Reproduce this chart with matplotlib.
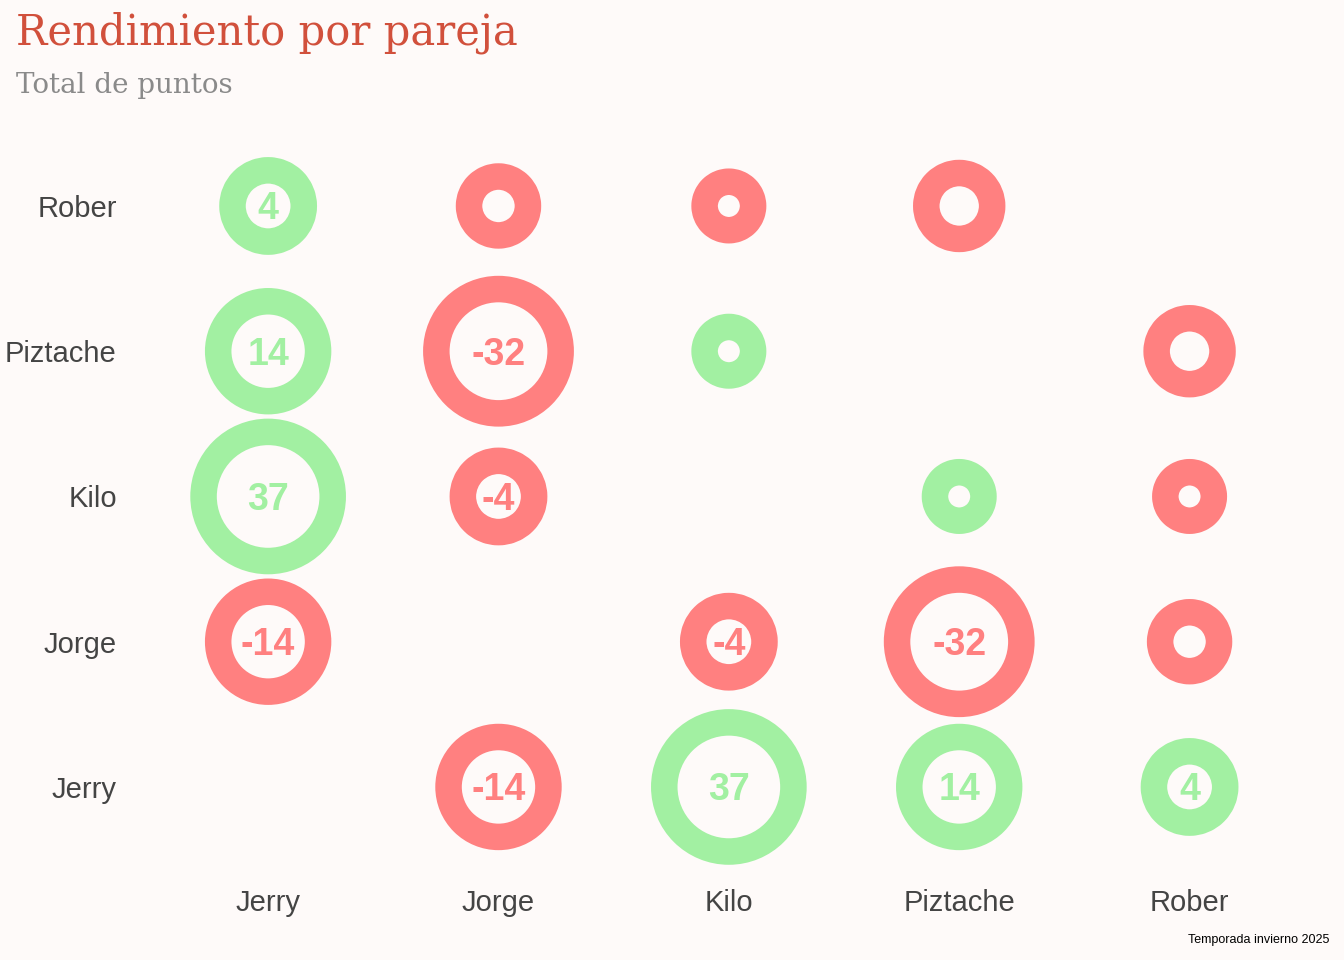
import numpy as np
import matplotlib.pyplot as plt
from matplotlib import font_manager

players = ["Jerry", "Jorge", "Kilo", "Piztache", "Rober"]

# total points per pair (symmetric)
pair_a = ["Jerry", "Jerry", "Jerry", "Jerry", "Jorge", "Jorge", "Jorge", "Kilo", "Kilo", "Piztache"]
pair_b = ["Jorge", "Kilo", "Piztache", "Rober", "Kilo", "Piztache", "Rober", "Piztache", "Rober", "Rober"]
pair_pts = [-14, 37, 14, 4, -4, -32, -2, 1, -1, -3]

title = "Rendimiento por pareja"
subtitle = "Total de puntos"
caption = "Temporada invierno 2025"

bg = "#FEFAF9"
green = "#A2F0A2"
red = "#FF8080"

installed = {f.name for f in font_manager.fontManager.ttflist}
label_font = "Liberation Sans Narrow" if "Liberation Sans Narrow" in installed else "Liberation Sans"

fig = plt.figure(figsize=(13.44, 9.6), dpi=100, facecolor=bg)
ax = fig.add_axes([0.1138, 0.1046, 0.857, 0.7565])
ax.set_facecolor(bg)

xs, ys, vals = [], [], []
for a, b, v in zip(pair_a, pair_b, pair_pts):
    ia, ib = players.index(a), players.index(b)
    xs += [ia, ib]
    ys += [ib, ia]
    vals += [v, v]
xs, ys, vals = np.array(xs), np.array(ys), np.array(vals)

ring_px = 26.5
outer_px = 20 + 55 * np.abs(vals) ** 0.25
sizes = ((outer_px - ring_px) * 0.72) ** 2
cols = [green if v > 0 else red for v in vals]

ax.scatter(xs, ys, s=sizes, facecolors=bg, edgecolors=cols, linewidths=ring_px * 0.72,
           zorder=2, clip_on=False)

for x, y, v, c in zip(xs, ys, vals, cols):
    if abs(v) >= 4:
        ax.annotate(str(v), (x, y), xytext=(0, -13.5 * 0.72), textcoords="offset points",
                    ha="center", va="baseline", color=c, fontsize=27,
                    fontweight="bold", family="Liberation Sans", zorder=3)

ax.set_xlim(-0.5, 4.5)
ax.set_ylim(-0.5, 4.5)
ax.set_xticks(range(len(players)))
ax.set_xticklabels(players)
ax.set_yticks(range(len(players)))
ax.set_yticklabels(players)
for lab in ax.get_xticklabels() + ax.get_yticklabels():
    lab.set_family(label_font)
    lab.set_fontsize(21)
    lab.set_color("#444444")
ax.tick_params(axis="x", length=0, pad=21)
ax.tick_params(axis="y", length=0, pad=26)
for s in ax.spines.values():
    s.set_visible(False)

fig.text(16 / 1344, 1 - 44 / 960, title, color="#D1503C", fontsize=30,
         family="DejaVu Serif", ha="left", va="baseline")
fig.text(16 / 1344, 1 - 93 / 960, subtitle, color="#8A8A8A", fontsize=20,
         family="DejaVu Serif", ha="left", va="baseline")
fig.text(1329 / 1344, 1 - 943 / 960, caption, color="black", fontsize=9,
         family="Liberation Sans", ha="right", va="baseline")

fig.savefig("out.png", dpi=100, facecolor=bg)
